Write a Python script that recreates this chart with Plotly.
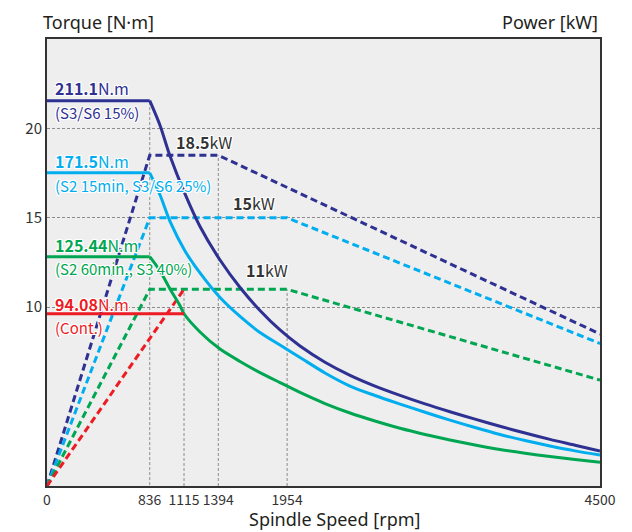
import plotly.graph_objects as go

# ---------------- data ----------------
speed_ticks = [0, 836, 1115, 1394, 1954, 4500]
power_ticks = [10, 15, 20]

# torque curves [N.m] vs spindle speed [rpm]
s3_15_speed = [0, 836, 920, 1001, 1123, 1245, 1408, 1571, 1733, 1896, 2059, 2262, 2466, 2669, 2873,
               3076, 3279, 3483, 3686, 3890, 4093, 4297, 4500]
s3_15_torque = [211.1, 211.1, 197.5, 180.7, 159.9, 142.0, 123.6, 108.5, 95.9, 85.2, 76.4, 67.5, 60.3, 54.4, 49.3,
                44.6, 40.3, 36.2, 32.3, 28.6, 25.1, 21.9, 18.7]

s2_15_speed = [0, 836, 920, 1001, 1123, 1245, 1408, 1571, 1733, 1896, 2059, 2262, 2466, 2669, 2873,
               3076, 3279, 3483, 3686, 3890, 4093, 4297, 4500]
s2_15_torque = [171.5, 171.5, 159.3, 144.8, 128.6, 116.5, 103.0, 92.6, 83.8, 76.9, 70.1, 61.6, 54.4, 49.2, 44.5,
                40.0, 35.7, 31.6, 27.8, 24.5, 21.5, 18.8, 16.5]

s2_60_speed = [0, 836, 920, 1001, 1082, 1115, 1245, 1408, 1571, 1733, 1896, 2059, 2262, 2466, 2669, 2873,
               3076, 3279, 3483, 3686, 3890, 4093, 4297, 4500]
s2_60_torque = [125.44, 125.44, 117.6, 107.7, 98.6, 94.08, 84.1, 74.7, 67.9, 61.8, 56.3, 50.9, 44.8, 39.6, 35.2, 31.2,
                27.8, 24.8, 22.0, 19.5, 17.5, 15.7, 14.1, 12.5]

cont_speed = [0, 1115]
cont_torque = [94.08, 94.08]

# power curves [kW] vs spindle speed [rpm]
p_s3_speed = [0, 836, 1394, 4500]
p_s3_power = [0, 18.5, 18.5, 8.5]
p_s2_15_speed = [0, 836, 1954, 4500]
p_s2_15_power = [0, 15, 15, 7.97]
p_s2_60_speed = [0, 836, 1954, 4500]
p_s2_60_power = [0, 11, 11, 5.92]
p_cont_speed = [0, 1115]
p_cont_power = [0, 11]

NAVY = '#2e3192'
SKY = '#00aeef'
GREEN = '#00a651'
RED = '#ed1c24'
GRID = '#8c8c8c'
TXT = '#231f20'
FONT = 'Noto Sans CJK KR'
TFONT = 'Noto Sans'
HALO = ('1px 1px 0 #fff, -1px -1px 0 #fff, 1px -1px 0 #fff, -1px 1px 0 #fff, '
        '0 1px 0 #fff, 0 -1px 0 #fff, 1px 0 0 #fff, -1px 0 0 #fff')

fig = go.Figure()

# power (dashed)
for sp, pw, col in [(p_s3_speed, p_s3_power, NAVY), (p_s2_15_speed, p_s2_15_power, SKY),
                    (p_s2_60_speed, p_s2_60_power, GREEN), (p_cont_speed, p_cont_power, RED)]:
    fig.add_trace(go.Scatter(x=sp, y=pw, mode='lines', yaxis='y',
                             line=dict(color=col, width=3, dash='7px,4px'),
                             hoverinfo='skip', showlegend=False))

# torque (solid): flat part linear, falling part spline
for sp, tq, col in [(s3_15_speed, s3_15_torque, NAVY), (s2_15_speed, s2_15_torque, SKY),
                    (s2_60_speed, s2_60_torque, GREEN)]:
    fig.add_trace(go.Scatter(x=sp[:2], y=tq[:2], mode='lines', yaxis='y2',
                             line=dict(color=col, width=3), hoverinfo='skip', showlegend=False))
    fig.add_trace(go.Scatter(x=sp[1:], y=tq[1:], mode='lines', yaxis='y2',
                             line=dict(color=col, width=3, shape='spline', smoothing=0.8),
                             hoverinfo='skip', showlegend=False))
fig.add_trace(go.Scatter(x=cont_speed, y=cont_torque, mode='lines', yaxis='y2',
                         line=dict(color=RED, width=3), hoverinfo='skip', showlegend=False))

# partial vertical grid lines (from axis up to the curve corner)
vgrid = [(speed_ticks[1], s3_15_torque[1], 'y2'), (speed_ticks[2], p_cont_power[1], 'y'),
         (speed_ticks[3], p_s3_power[2], 'y'), (speed_ticks[4], p_s2_60_power[2], 'y')]
shapes = []
for xv, top, yr in vgrid:
    shapes.append(dict(type='line', xref='x', yref=yr, x0=xv, x1=xv, y0=0, y1=top,
                       line=dict(color=GRID, width=1, dash='3px,2px'), layer='below'))

# page offset: the page body has an 8px margin
OFF = 8
L, T, W, H = 47, 39, 553, 447  # plot area in page pixels


def px(xp):
    return (xp - L) / W


def py(yp):
    return (T + H - yp) / H


def ann(text, xp, yp, color, size=16, xanchor='left'):
    return dict(text=text, xref='paper', yref='paper', x=px(xp), y=py(yp),
                xanchor=xanchor, yanchor='middle', showarrow=False,
                font=dict(family=FONT, size=size, color=color, shadow=HALO))


annotations = [
    ann('<b>211.1</b>N.m', 53, 88, NAVY),
    ann('(S3/S6 15%)', 53, 113, NAVY, 15),
    ann('<b>171.5</b>N.m', 53, 161, SKY),
    ann('(S2 15min, S3/S6 25%)', 53, 185, SKY, 15),
    ann('<b>125.44</b>N.m', 53, 245, GREEN),
    ann('(S2 60min., S3 40%)', 53, 268, GREEN, 15),
    ann('<b>94.08</b>N.m', 53, 304, RED),
    ann('(Cont.)', 53, 327, RED, 15),
    ann('<b>18.5</b>kW', 204, 142, '#333333', 16, 'center'),
    ann('<b>15</b>kW', 254, 203, '#333333', 16, 'center'),
    ann('<b>11</b>kW', 267, 270, '#333333', 16, 'center'),
]
for text, xp, yp, xa in [('Torque [N·m]', 41, 22, 'left'), ('Power [kW]', 600, 22, 'right'),
                         ('Spindle Speed [rpm]', 334, 519, 'center')]:
    annotations.append(dict(text=text, xref='paper', yref='paper', x=px(xp), y=py(yp),
                            xanchor=xa, yanchor='middle', showarrow=False,
                            font=dict(family=TFONT, size=18, color=TXT)))

FW, FH = 632 - OFF, 532 - OFF
fig.update_layout(
    width=FW, height=FH,
    margin=dict(l=L - OFF, r=632 - L - W, t=T - OFF, b=532 - T - H, autoexpand=False),
    paper_bgcolor='white', plot_bgcolor='#eeeeee',
    font=dict(family=FONT, color='#333333'),
    xaxis=dict(range=[0, 4500], tickvals=speed_ticks, ticktext=[str(v) for v in speed_ticks],
               tickangle=0, showgrid=False, zeroline=False, showline=True, linecolor='#333333',
               linewidth=2, mirror=True, ticks='',
               tickfont=dict(size=14, color='#333333', family=FONT)),
    yaxis=dict(range=[0, 25], tickvals=power_ticks, showgrid=True, gridcolor=GRID, gridwidth=1,
               griddash='3px,2px', zeroline=False, showline=True, linecolor='#333333', linewidth=2,
               mirror=True, ticks='', tickfont=dict(size=15, color='#333333', family=FONT)),
    yaxis2=dict(range=[-0.5, 245], overlaying='y', visible=False),
    shapes=shapes, annotations=annotations,
)

fig.write_html('out.html')
